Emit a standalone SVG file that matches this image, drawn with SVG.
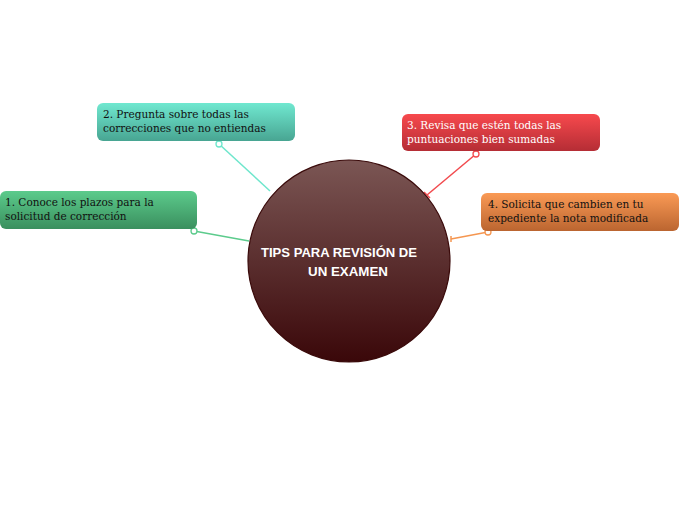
<svg xmlns="http://www.w3.org/2000/svg" width="696" height="520" viewBox="0 0 696 520">
<defs>
<linearGradient id="gC" x1="0" y1="0" x2="0" y2="1"><stop offset="0" stop-color="#7b5654"/><stop offset="1" stop-color="#3a0709"/></linearGradient>
<linearGradient id="g1" x1="0" y1="0" x2="0" y2="1"><stop offset="0" stop-color="#5ccb8c"/><stop offset="1" stop-color="#3a8f5e"/></linearGradient>
<linearGradient id="g2" x1="0" y1="0" x2="0" y2="1"><stop offset="0" stop-color="#70e8d0"/><stop offset="1" stop-color="#48a592"/></linearGradient>
<linearGradient id="g3" x1="0" y1="0" x2="0" y2="1"><stop offset="0" stop-color="#f7494d"/><stop offset="1" stop-color="#b52d35"/></linearGradient>
<linearGradient id="g4" x1="0" y1="0" x2="0" y2="1"><stop offset="0" stop-color="#fa9a55"/><stop offset="1" stop-color="#bb6530"/></linearGradient>
<style>
.t{font-family:"DejaVu Serif","Liberation Serif",serif;font-size:10.5px;}
.c{font-family:"Liberation Sans",Arial,sans-serif;font-size:12.5px;font-weight:bold;fill:#fff;}
.dot{fill:#fff;stroke-width:1.3;}
</style>
</defs>
<g id="connectors" fill="none" stroke-width="1.5">
<line x1="194" y1="231" x2="249" y2="241" stroke="#5ccb8c"/>
<circle class="dot" cx="194" cy="231" r="3" stroke="#5ccb8c"/>
<line x1="219" y1="144" x2="270" y2="191" stroke="#6ee6cc"/>
<circle class="dot" cx="219" cy="144" r="3" stroke="#6ee6cc"/>
<line x1="476" y1="154" x2="427" y2="195" stroke="#f24a4e"/>
<circle class="dot" cx="476" cy="154" r="3" stroke="#f24a4e"/>
<line x1="424" y1="192" x2="430" y2="198" stroke="#f24a4e"/>
<line x1="488" y1="232" x2="451" y2="239" stroke="#f59650"/>
<circle class="dot" cx="488" cy="232" r="3" stroke="#f59650"/>
<line x1="451" y1="236" x2="451" y2="242" stroke="#f59650"/>
</g>
<g id="center">
<circle cx="349" cy="261" r="101" fill="url(#gC)" stroke="#3a0a0a" stroke-width="1.2"/>
<text class="c" x="261" y="257" textLength="156" lengthAdjust="spacingAndGlyphs">TIPS PARA REVISIÓN DE</text>
<text class="c" x="308" y="276" textLength="80" lengthAdjust="spacingAndGlyphs">UN EXAMEN</text>
</g>
<g id="node1">
<rect x="0" y="191" width="197" height="38" rx="6" fill="url(#g1)"/>
<text class="t" x="5" y="206" fill="#111">1. Conoce los plazos para la</text>
<text class="t" x="5" y="220" fill="#111">solicitud de corrección</text>
</g>
<g id="node2">
<rect x="97" y="103" width="198" height="38" rx="6" fill="url(#g2)"/>
<text class="t" x="103" y="118" fill="#111">2. Pregunta sobre todas las</text>
<text class="t" x="103" y="132" fill="#111">correcciones que no entiendas</text>
</g>
<g id="node3">
<rect x="402" y="114" width="198" height="37" rx="6" fill="url(#g3)"/>
<text class="t" x="407" y="129" fill="#fff">3. Revisa que estén todas las</text>
<text class="t" x="407" y="143" fill="#fff">puntuaciones bien sumadas</text>
</g>
<g id="node4">
<rect x="481" y="193" width="198" height="38" rx="6" fill="url(#g4)"/>
<text class="t" x="488" y="208" fill="#111">4. Solicita que cambien en tu</text>
<text class="t" x="488" y="222" fill="#111">expediente la nota modificada</text>
</g>
</svg>
